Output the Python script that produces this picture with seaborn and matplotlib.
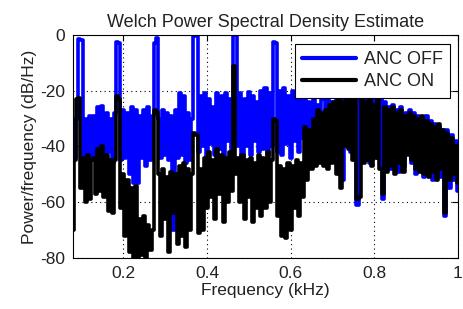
# Welch PSD, ANC off vs ANC on
import matplotlib
matplotlib.use('Agg')
import matplotlib.pyplot as plt
import pandas as pd
import numpy as np
import seaborn as sns

# frequency grid (kHz)
freq = np.round(np.arange(0.08, 1.0001, 0.005), 3)

# dB/Hz
anc_off = [
    -30, -44, -30, -1.5, -2, -46, -30, -49, -29, -45,
    -29, -44, -26, -43, -25.5, -45, -28, -42, -30, -46,
    -28, -2.5, -3, -45, -27, -44, -28, -50, -26, -53,
    -27, -53, -29, -44, -27, -47, -26, -45, -29, -3,
    -1, -30, -44, -27, -43, -28, -45, -29, -70, -27,
    -44, -21, -43, -22, -46, -28, -45, -30, 0, -0.5,
    -42, -22, -40, -21, -44, -23, -39, -26, -43, -21,
    -41, -22, -44, -21, -38, -23, -42, 0, 0, -40,
    -21, -44, -23, -40, -20.5, -43, -22, -38, -24, -42,
    -20, -41, -19, -43, -21, -40, -2.5, -3, -42, -20,
    -43, -19, -39, -22, -44, -20, -38, -21, -42, -23,
    -37, -21, -44, -24, -36, -22, -40, -25, -35, -22,
    -23, -40, -22, -44, -24, -38, -22, -35, -23, -52,
    -22, -40, -21, -42, -23, -45, -61, -22, -44, -22,
    -42, -23, -46, -22, -40, -21, -44, -22, -59, -24,
    -46, -26, -48, -25, -44, -27, -49, -26, -47, -28,
    -42, -27, -46, -28, -50, -29, -48, -30, -51, -29,
    -50, -31, -52, -32, -48, -33, -51, -34, -65, -34,
    -55, -36, -52, -38, -56,
]

anc_on = [
    -70, -45, -23, -22.5, -55, -44, -60, -43, -59, -45,
    -44, -57, -41, -56, -40, -58, -43, -63, -45, -64,
    -45, -22, -23, -62, -50, -72, -52, -78, -55, -80,
    -54, -80, -66, -79, -65, -80, -68, -77, -70, -27,
    -27.5, -50, -72, -48, -66, -51, -78, -49, -64, -50,
    -75, -47, -72, -46, -76, -48, -70, -50, -35, -36,
    -71, -48, -70, -44, -62, -42, -58, -45, -66, -41,
    -57, -43, -67, -44, -60, -42, -56, -11, -50, -44,
    -60, -43, -66, -45, -58, -44, -67, -46, -62, -43,
    -65, -44, -62, -42, -60, -45, -30, -31, -65, -47,
    -72, -48, -73, -46, -70, -47, -62, -45, -65, -46,
    -58, -33, -52, -34, -48, -30, -47, -27, -46, -28,
    -47, -27, -48, -25, -46, -24, -50, -23, -55, -24,
    -40, -22, -41, -23, -45, -22, -59, -58, -23, -46,
    -24, -45, -22, -47, -25, -44, -23, -48, -57, -26,
    -49, -27, -47, -26, -50, -28, -46, -27, -49, -29,
    -43, -28, -45, -29, -48, -30, -49, -29, -50, -31,
    -51, -32, -49, -33, -52, -32, -48, -34, -64, -35,
    -52, -37, -50, -40, -53,
]

labels = ['ANC OFF', 'ANC ON']
colors = {'ANC OFF': '#0000ff', 'ANC ON': '#000000'}

df = pd.concat([
    pd.DataFrame({'freq': freq, 'psd': anc_off, 'state': labels[0]}),
    pd.DataFrame({'freq': freq, 'psd': anc_on, 'state': labels[1]}),
])

#styling
sns.set_style('white')
plt.rcParams['font.family'] = ['Liberation Sans', 'DejaVu Sans']
plt.rcParams['axes.unicode_minus'] = False

fig = plt.figure(figsize=(4.63, 3.09), dpi=100)
ax = fig.add_axes([0.158, 0.165, 0.831, 0.722])
sns.lineplot(data=df, x='freq', y='psd', hue='state', hue_order=labels,
             palette=colors, estimator=None, sort=False, linewidth=2.6,
             drawstyle='steps-mid', ax=ax)

ax.set_xlim(0.08, 1.0)
ax.set_ylim(-80, 0)
ax.set_xticks([0.2, 0.4, 0.6, 0.8, 1.0])
ax.set_xticklabels(['0.2', '0.4', '0.6', '0.8', '1'])
ax.set_yticks([-80, -60, -40, -20, 0])
ax.grid(True, linestyle=(0, (1, 3)), color='black', linewidth=0.8)
ax.set_axisbelow(True)
for s in ax.spines.values():
    s.set_color('black')
    s.set_linewidth(0.8)
ax.tick_params(direction='in', top=True, right=True, length=4, width=0.8,
               labelsize=12.5, colors='black', pad=6)
for t in ax.get_xticklabels() + ax.get_yticklabels():
    t.set_color('#222222')

ax.set_title('Welch Power Spectral Density Estimate', fontsize=13, pad=6,
             color='#222222')
ax.set_xlabel('Frequency (kHz)', fontsize=12.5, labelpad=1, color='#222222')
ax.set_ylabel('Power/frequency (dB/Hz)', fontsize=12.5, labelpad=2,
              color='#222222')

leg = ax.legend(loc='upper right', bbox_to_anchor=(0.979, 0.96), fontsize=13,
                frameon=True, fancybox=False, edgecolor='black', framealpha=1,
                handlelength=3.0, handletextpad=0.4, borderpad=0.4,
                labelspacing=0.3, borderaxespad=0)
leg.get_frame().set_linewidth(0.8)
for line in leg.get_lines():
    line.set_linewidth(3)
for t in leg.get_texts():
    t.set_color('#222222')

fig.savefig('out.png', dpi=100)
